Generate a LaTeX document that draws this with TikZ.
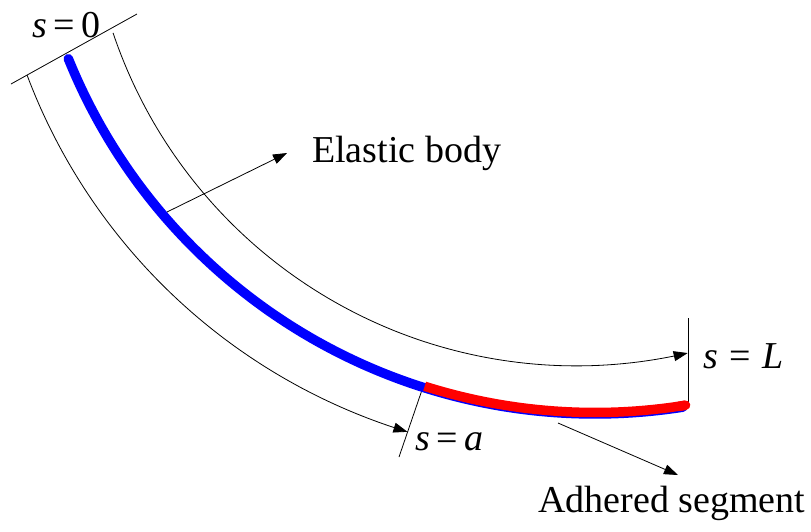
\documentclass[tikz,border=0pt]{standalone}
\usepackage{fontspec}
\setmainfont{Liberation Serif}
\usetikzlibrary{arrows.meta}

\begin{document}
\begin{tikzpicture}[
  x=1pt, y=-1pt,
  guide/.style={line width=0.8pt},
  dimarrow/.style={guide, -{Triangle[length=14pt,width=10pt]}},
  body/.style={line width=9.5pt},
  lbl/.style={anchor=base west, inner sep=0pt, font=\fontsize{38}{40}\selectfont}
]
\useasboundingbox (0,0) rectangle (811,531);

% end ticks
\coordinate (tick0a) at (11,84);
\coordinate (tick0b) at (137,14);
\coordinate (tickaa) at (399,457);
\coordinate (tickab) at (423,387);
\coordinate (tickLa) at (688,318);
\coordinate (tickLb) at (688,402);
\draw[guide] (tick0a) -- (tick0b);
\draw[guide] (tickaa) -- (tickab);
\draw[guide] (tickLa) -- (tickLb);

% arc length arrows
\draw[dimarrow] plot[domain=0:1, samples=90]
  ({579.2+589.9*cos(159.4-52.5*\x)},{-132.5+589.9*sin(159.4-52.5*\x)});
\draw[dimarrow] plot[domain=0:1, samples=90]
  ({576.4+488.9*cos(161.4-84.6*\x)},{-123+488.9*sin(161.4-84.6*\x)});

% elastic body and adhered part
\draw[body, blue, line cap=round] plot[domain=0:1, samples=120]
  ({595+568*cos(158.0-77.0*\x)},{-154+568*sin(158.0-77.0*\x)});
\draw[body, red, line cap=butt, -{Round Cap}] plot[domain=0:1, samples=60]
  ({595+566.5*cos(107.5-27.2*\x)},{-154+566.5*sin(107.5-27.2*\x)});

% labels
\node[lbl] (szero) at (32,37) {\textit{s}\,=\,0};
\node[lbl] (sa) at (415,450) {\textit{s}\,=\,\textit{a}};
\node[lbl] (sL) at (703,368) {\textit{s}\hspace{0.3em}=\hspace{0.3em}\textit{L}};
\node[lbl] (elastic) at (312,162) {Elastic body};
\node[lbl] (adhered) at (538,512) {Adhered segment};

% pointers
\coordinate (elasticfrom) at (167,212);
\coordinate (elasticto) at (287,153);
\coordinate (adheredfrom) at (558,423);
\coordinate (adheredto) at (678,475);
\draw[dimarrow] (elasticfrom) -- (elasticto);
\draw[dimarrow] (adheredfrom) -- (adheredto);

\end{tikzpicture}
\end{document}
